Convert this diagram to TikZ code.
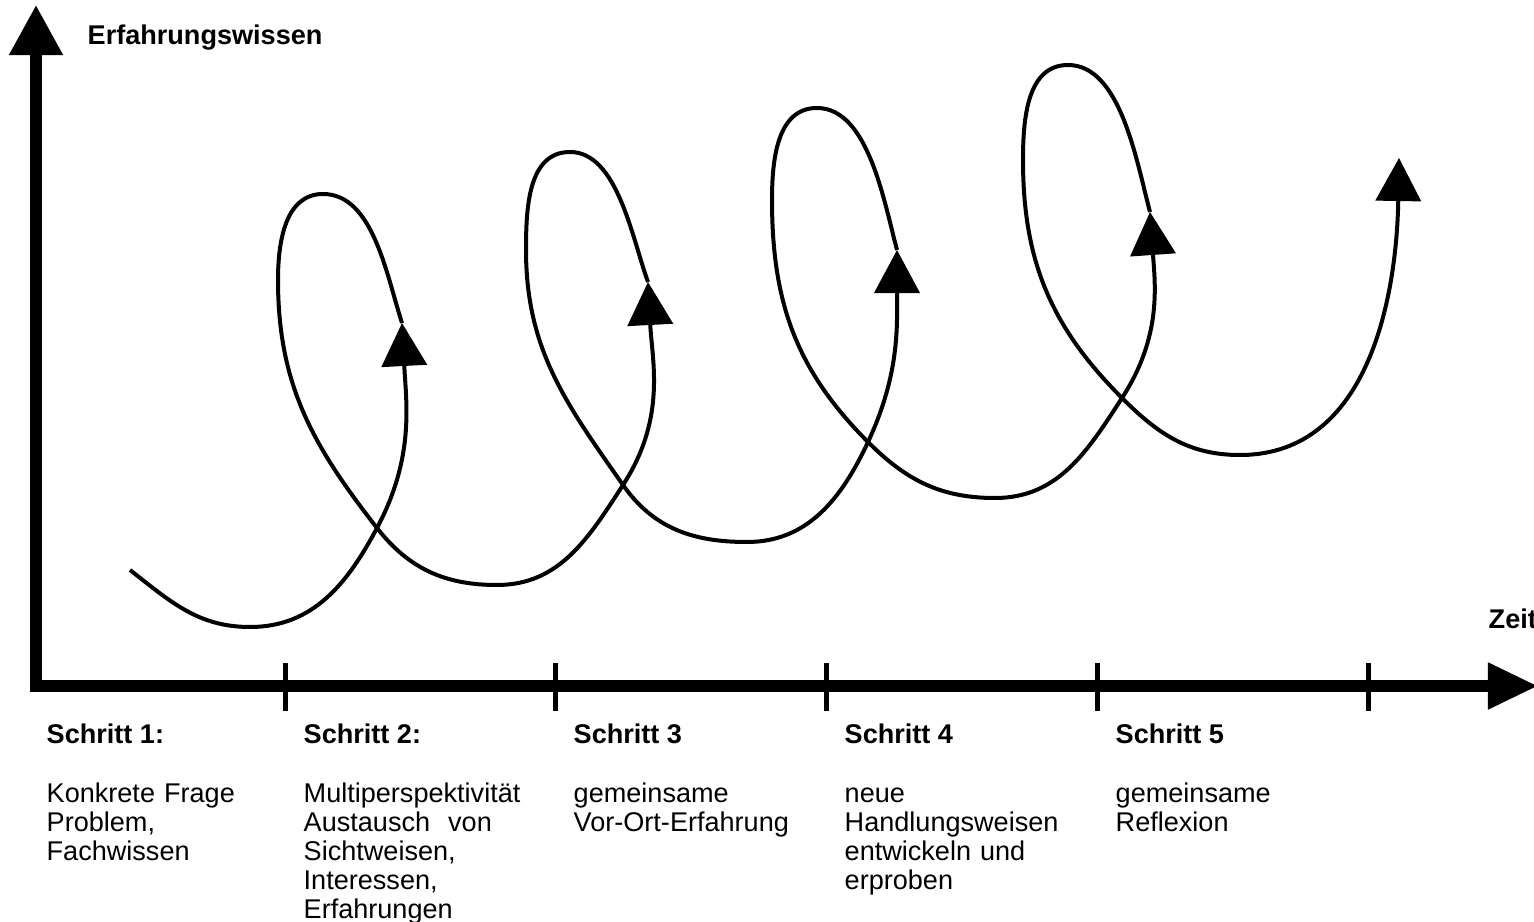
\documentclass[tikz,border=0pt]{standalone}
\usepackage{fontspec}
\setmainfont{Liberation Sans}
\usetikzlibrary{arrows.meta}

\tikzset{
  achse/.style={line width=0.11cm},
  strich/.style={line width=0.05cm},
  spirale/.style={line width=0.04cm,-{Triangle[length=0.43cm,width=0.45cm]}},
  kopf/.style={anchor=base west,inner sep=0pt,font=\fontsize{7.7pt}{8.25pt}\selectfont\bfseries},
  beschr/.style={anchor=base west,inner sep=0pt,text width=2.5cm,align=left,font=\fontsize{7.7pt}{8.25pt}\selectfont}
}

\begin{document}
\begin{tikzpicture}[x=0.01cm,y=0.01cm]
      \useasboundingbox (0,0) rectangle (1534,-922);
      \coordinate (ursprung) at (36,-686);
      \coordinate (yspitze) at (36,-5);
      \coordinate (xspitze) at (1538,-686);
      \draw[achse,{Triangle[length=0.5cm,width=0.51cm]}-{Triangle[length=0.5cm,width=0.44cm]}] (yspitze) -- (ursprung) -- (xspitze);
      \node[kopf] (yachse) at (87,-45) {Erfahrungswissen};
      \node[kopf] (xachse) at (1488,-628) {Zeit};
      \draw[strich] (285,-663) -- (285,-711);
      \draw[strich] (555,-663) -- (555,-711);
      \draw[strich] (826,-663) -- (826,-711);
      \draw[strich] (1097,-663) -- (1097,-711);
      \draw[strich] (1368,-663) -- (1368,-711);
      \draw[spirale] (130,-570) to[out=-38,in=180] (250,-627) to[out=0,in=-118] (377,-528) to[out=62,in=-87] (402,-323);
      \draw[spirale] (402,-323) to[out=108,in=0,looseness=0.85] (323,-194) to[out=180,in=90] (278,-280) to[out=-90,in=128] (377,-528) to[out=-52,in=180] (497,-585) to[out=0,in=-123] (623,-485) to[out=57,in=-87] (648,-282);
      \draw[spirale] (648,-282) to[out=110,in=0,looseness=0.8] (570,-152) to[out=180,in=90] (526,-250) to[out=-90,in=125] (623,-485) to[out=-55,in=180] (747,-542) to[out=0,in=-115] (868,-442) to[out=65,in=-90] (897,-250);
      \draw[spirale] (897,-250) to[out=105,in=0,looseness=0.8] (817,-108) to[out=180,in=90] (772,-200) to[out=-90,in=135] (868,-442) to[out=-45,in=180] (995,-498) to[out=0,in=-123] (1122,-398) to[out=57,in=-86] (1150,-212);
      \draw[spirale] (1150,-212) to[out=105,in=0,looseness=0.8] (1068,-65) to[out=180,in=90] (1023,-160) to[out=-90,in=135] (1122,-398) to[out=-45,in=180] (1240,-455) to[out=0,in=-91] (1399,-158);
      \node[kopf] (schritt1) at (46,-743) {Schritt 1:};
      \node[kopf] (schritt2) at (303,-743) {Schritt 2:};
      \node[kopf] (schritt3) at (573,-743) {Schritt 3};
      \node[kopf] (schritt4) at (844,-743) {Schritt 4};
      \node[kopf] (schritt5) at (1115,-743) {Schritt 5};
      \node[beschr] (inhalt1) at (46,-802) {Konkrete Frage\\Problem,\\Fachwissen};
      \node[beschr] (inhalt2) at (303,-802) {Multiperspektivität\\Austausch\ \ von\\Sichtweisen,\\Interessen,\\Erfahrungen};
      \node[beschr] (inhalt3) at (573,-802) {gemeinsame\\Vor-Ort-Erfahrung};
      \node[beschr] (inhalt4) at (844,-802) {neue\\Handlungsweisen\\entwickeln und\\erproben};
      \node[beschr] (inhalt5) at (1115,-802) {gemeinsame\\Reflexion};
\end{tikzpicture}
\end{document}
